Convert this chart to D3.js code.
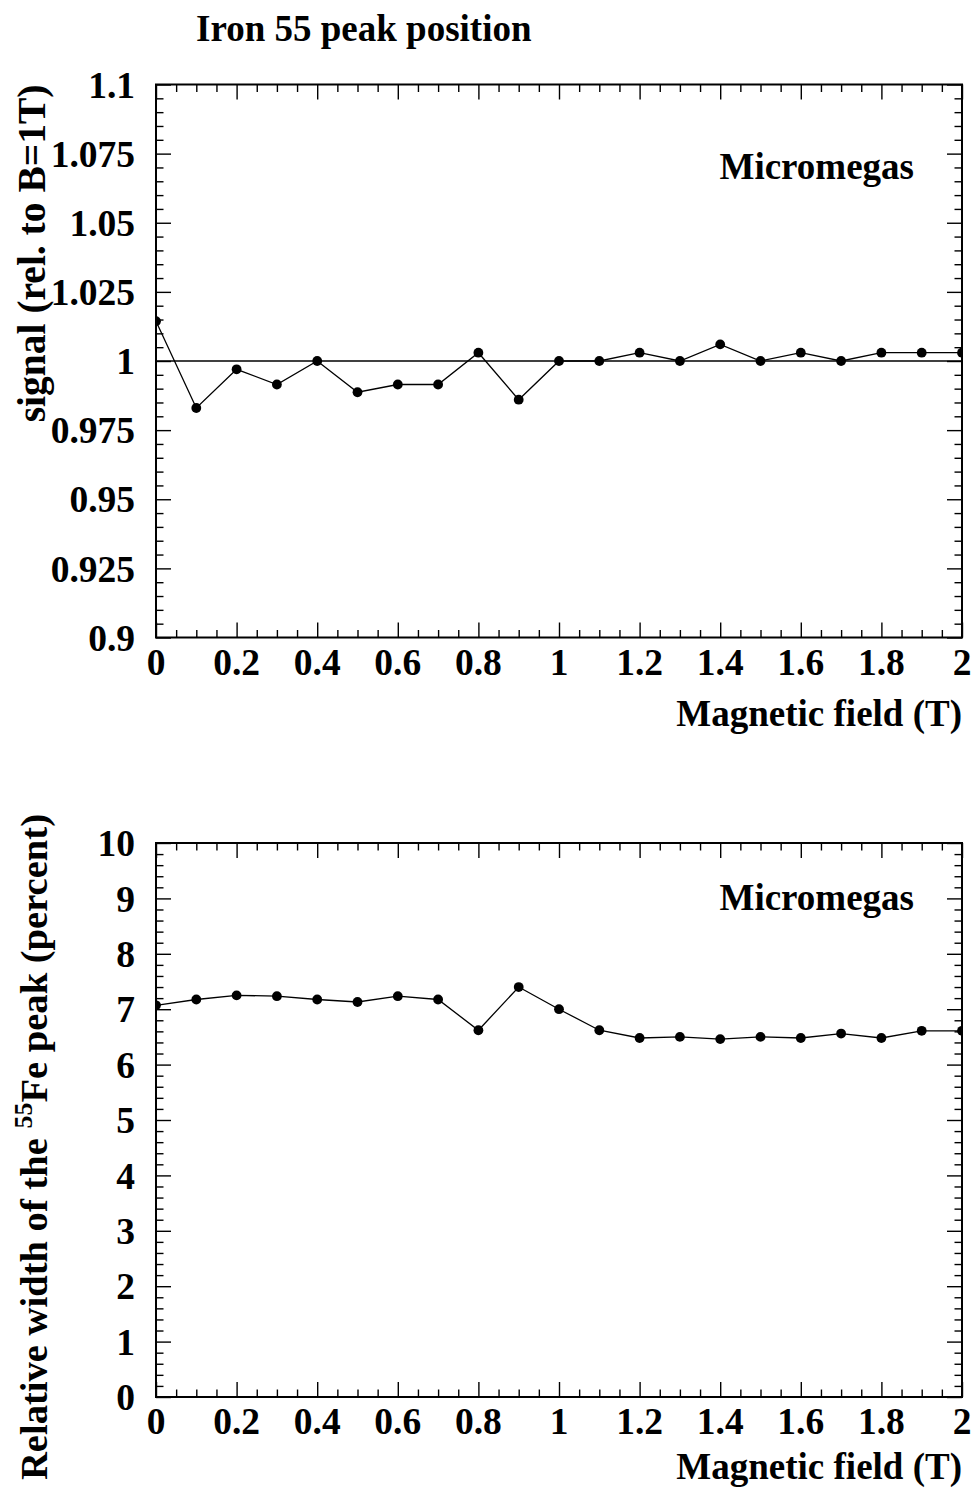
<!DOCTYPE html>
<html>
<head>
<meta charset="utf-8">
<script src="https://cdn.jsdelivr.net/npm/d3@7"></script>
<style>
  html, body { margin: 0; padding: 0; background: #fff; }
  svg { display: block; }
  text { font-family: "Liberation Serif", "Times New Roman", serif; font-weight: bold; fill: #000; }
</style>
</head>
<body>
<script>
// ---------------- DATA ----------------
const bField = [0, 0.1, 0.2, 0.3, 0.4, 0.5, 0.6, 0.7, 0.8, 0.9, 1.0,
                1.1, 1.2, 1.3, 1.4, 1.5, 1.6, 1.7, 1.8, 1.9, 2.0];
const peakSignal = [1.0144, 0.983, 0.997, 0.9915, 1.0, 0.9887, 0.9915, 0.9915, 1.003, 0.986, 1.0,
                    1.0, 1.003, 1.0, 1.006, 1.0, 1.003, 1.0, 1.003, 1.003, 1.003];
const peakWidth = [7.07, 7.175, 7.25, 7.235, 7.175, 7.13, 7.235, 7.175, 6.62, 7.40, 7.0,
                   6.62, 6.48, 6.50, 6.46, 6.50, 6.48, 6.56, 6.48, 6.61, 6.61];
const referenceLevel = [1.0];

const xTicks = [0, 0.2, 0.4, 0.6, 0.8, 1.0, 1.2, 1.4, 1.6, 1.8, 2.0];
const xTickLabels = ["0", "0.2", "0.4", "0.6", "0.8", "1", "1.2", "1.4", "1.6", "1.8", "2"];
const ySignalTicks = [0.9, 0.925, 0.95, 0.975, 1.0, 1.025, 1.05, 1.075, 1.1];
const ySignalTickLabels = ["0.9", "0.925", "0.95", "0.975", "1", "1.025", "1.05", "1.075", "1.1"];
const yWidthTicks = [0, 1, 2, 3, 4, 5, 6, 7, 8, 9, 10];
const yWidthTickLabels = ["0", "1", "2", "3", "4", "5", "6", "7", "8", "9", "10"];

const titleText = "Iron 55 peak position";
const xTitle = "Magnetic field (T)";
const legendText = "Micromegas";

// ---------------- LAYOUT ----------------
const W = 975, H = 1490;
const svg = d3.select("body").append("svg").attr("width", W).attr("height", H);

const X0 = 156, X1 = 962;
const tickFont = 37.5;

function minorTicks(lo, hi, step, majors) {
  const out = [];
  const n = Math.round((hi - lo) / step);
  for (let i = 0; i <= n; i++) {
    const v = lo + i * step;
    if (!majors.some(m => Math.abs(m - v) < step * 1e-3)) out.push(+v.toFixed(6));
  }
  return out;
}

function panel(cfg) {
  const g = svg.append("g");
  const x = d3.scaleLinear().domain([0, 2]).range([X0, X1]);
  const y = d3.scaleLinear().domain(cfg.yDomain).range([cfg.bottom, cfg.top]);

  const clipId = "clip" + cfg.id;
  svg.append("defs").append("clipPath").attr("id", clipId)
    .append("rect").attr("x", X0).attr("y", cfg.top).attr("width", X1 - X0).attr("height", cfg.bottom - cfg.top);

  const xMinor = minorTicks(0, 2, 0.05, xTicks);
  const yMinor = minorTicks(cfg.yDomain[0], cfg.yDomain[1], cfg.yMinorStep, cfg.yTicks);

  const axisDefs = [
    [d3.axisBottom(x), `translate(0,${cfg.bottom})`, xTicks, xMinor],
    [d3.axisTop(x), `translate(0,${cfg.top})`, xTicks, xMinor],
    [d3.axisLeft(y), `translate(${X0},0)`, cfg.yTicks, yMinor],
    [d3.axisRight(y), `translate(${X1},0)`, cfg.yTicks, yMinor]
  ];
  axisDefs.forEach(([ax, tr, maj, min]) => {
    [[maj, -15], [min, -7.5]].forEach(([vals, size]) => {
      const a = g.append("g").attr("transform", tr)
        .call(ax.tickValues(vals).tickSize(size).tickSizeOuter(0).tickFormat(() => ""));
      a.select(".domain").remove();
      a.selectAll("line").attr("stroke", "#000").attr("stroke-width", 1.4);
    });
  });

  // frame
  g.append("rect").attr("x", X0).attr("y", cfg.top).attr("width", X1 - X0).attr("height", cfg.bottom - cfg.top)
    .attr("fill", "none").attr("stroke", "#000").attr("stroke-width", 2);

  // tick labels
  g.append("g").selectAll("text").data(xTicks).join("text")
    .attr("x", d => x(d)).attr("y", cfg.bottom + 37)
    .attr("text-anchor", "middle").attr("font-size", tickFont)
    .text((d, i) => xTickLabels[i]);
  g.append("g").selectAll("text").data(cfg.yTicks).join("text")
    .attr("x", 135).attr("y", d => y(d)).attr("dy", "0.35em")
    .attr("text-anchor", "end").attr("font-size", tickFont)
    .text((d, i) => cfg.yTickLabels[i]);

  // x title
  g.append("text").attr("x", X1).attr("y", cfg.xTitleY).attr("text-anchor", "end")
    .attr("font-size", 37).text(xTitle);

  // legend text
  g.append("text").attr("x", 914).attr("y", cfg.legendY).attr("text-anchor", "end")
    .attr("font-size", 37).text(legendText);

  const plot = g.append("g").attr("clip-path", `url(#${clipId})`);
  if (cfg.refLine) {
    plot.selectAll("line.ref").data(cfg.refLine).join("line").attr("class", "ref")
      .attr("x1", X0).attr("x2", X1).attr("y1", d => y(d)).attr("y2", d => y(d))
      .attr("stroke", "#000").attr("stroke-width", 1.3);
  }
  const pts = bField.map((b, i) => [b, cfg.values[i]]);
  plot.append("path").datum(pts)
    .attr("d", d3.line().x(d => x(d[0])).y(d => y(d[1])))
    .attr("fill", "none").attr("stroke", "#000").attr("stroke-width", 1.3);
  plot.selectAll("circle").data(pts).join("circle")
    .attr("cx", d => x(d[0])).attr("cy", d => y(d[1])).attr("r", 4.9).attr("fill", "#000");

  return g;
}

// Title
svg.append("text").attr("x", 196).attr("y", 41).attr("font-size", 37).text(titleText);

// Top panel
const gTop = panel({
  id: "top", top: 84.5, bottom: 637.5, yDomain: [0.9, 1.1], yMinorStep: 0.005,
  yTicks: ySignalTicks, yTickLabels: ySignalTickLabels, values: peakSignal,
  refLine: referenceLevel, xTitleY: 726, legendY: 179
});
gTop.append("text").attr("transform", "translate(45,84.5) rotate(-90)")
  .attr("text-anchor", "end").attr("font-size", 39.5).text("signal (rel. to B=1T)");

// Bottom panel
const gBot = panel({
  id: "bot", top: 843, bottom: 1397, yDomain: [0, 10], yMinorStep: 0.2,
  yTicks: yWidthTicks, yTickLabels: yWidthTickLabels, values: peakWidth,
  refLine: null, xTitleY: 1479, legendY: 910
});
const yl = gBot.append("text").attr("transform", "translate(47,1480) rotate(-90)")
  .attr("text-anchor", "start").attr("font-size", 38.6);
yl.append("tspan").text("Relative width of the ");
yl.append("tspan").attr("font-size", 26).attr("dy", -15).text("55");
yl.append("tspan").attr("dy", 15).text("Fe peak (percent)");
</script>
</body>
</html>
